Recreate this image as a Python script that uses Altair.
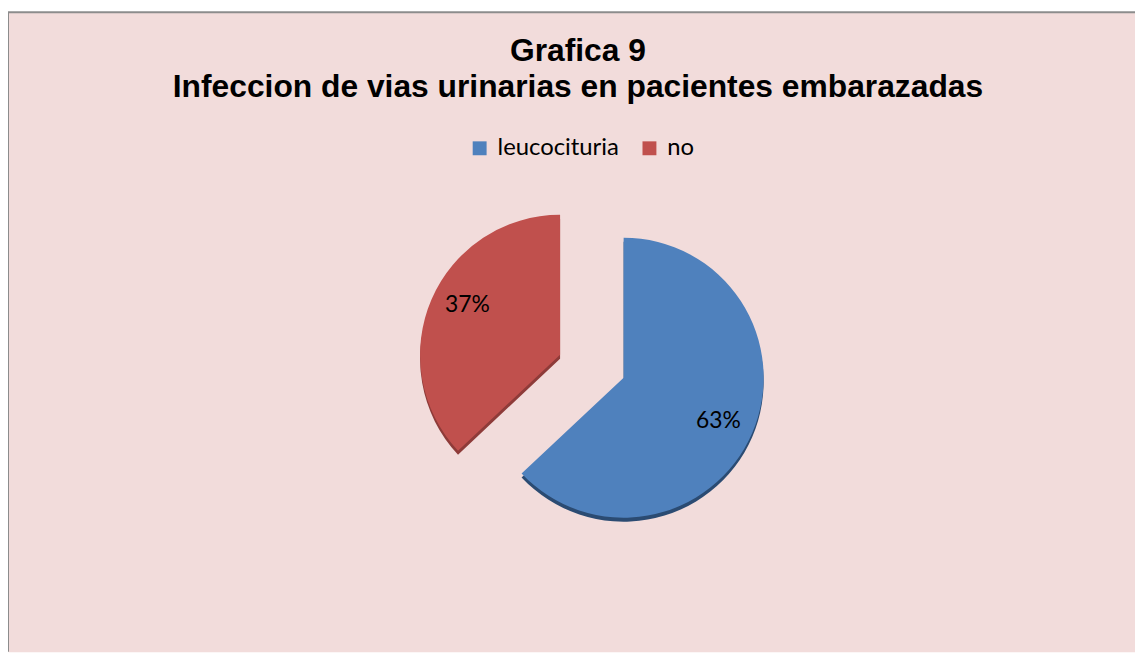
import altair as alt
import pandas as pd

categories = ["leucocituria", "no"]
values = [63, 37]
order = [1, 2]
colors = ["#4f81bd", "#c0504d"]
shadow_colors = ["#2b4b72", "#8e3b39"]
title_lines = ["Grafica 9", "Infeccion de vias urinarias en pacientes embarazadas"]

df = pd.DataFrame({"category": categories, "value": values, "order": order})

W, H = 1135, 644
R = 141
centers = {"leucocituria": (620, 368), "no": (556, 345)}
label_shift = {"leucocituria": (-1, 2), "no": (3, -8)}

base = (
    alt.Chart(df)
    .transform_joinaggregate(total="sum(value)")
    .transform_window(cum="sum(value)", sort=[alt.SortField("order")], frame=[None, 0])
    .transform_calculate(start="(datum.cum - datum.value) / datum.total * 2 * PI")
    .transform_calculate(end="datum.cum / datum.total * 2 * PI")
    .transform_calculate(mid="(datum.start + datum.end) / 2")
    .transform_calculate(label="format(datum.value / datum.total, '.0%')")
)

color_scale = alt.Scale(domain=categories, range=colors)
legend = alt.Legend(
    orient="none", legendX=463, legendY=125, direction="horizontal",
    symbolType="square", symbolSize=196, symbolStrokeWidth=0, symbolOpacity=1,
    labelFont="Lato", labelFontSize=24, labelColor="black", labelOffset=6,
    columnPadding=18, padding=0, title=None,
)

layers = []
# shadows
for cat, sc in zip(categories, shadow_colors):
    cx, cy = centers[cat]
    layers.append(
        base.transform_filter(alt.datum.category == cat)
        .mark_arc(radius=R, color=sc)
        .encode(
            theta=alt.Theta("start:Q", scale=None),
            theta2="end:Q",
            x=alt.value(cx),
            y=alt.value(cy + 4),
        )
    )
# slices
for cat in categories:
    cx, cy = centers[cat]
    layers.append(
        base.transform_filter(alt.datum.category == cat)
        .mark_arc(radius=R)
        .encode(
            theta=alt.Theta("start:Q", scale=None),
            theta2="end:Q",
            x=alt.value(cx),
            y=alt.value(cy),
            color=alt.Color("category:N", scale=color_scale, legend=legend),
        )
    )
# labels
for cat in categories:
    cx, cy = centers[cat]
    dx, dy = label_shift[cat]
    layers.append(
        base.transform_filter(alt.datum.category == cat)
        .mark_text(radius=105, font="Lato", fontSize=23, color="black", dx=dx, dy=dy)
        .encode(
            theta=alt.Theta("mid:Q", scale=None),
            text="label:N",
            x=alt.value(cx),
            y=alt.value(cy),
        )
    )

one = pd.DataFrame({"k": [0]})
# title
for i, line in enumerate(title_lines):
    layers.append(
        alt.Chart(pd.DataFrame({"t": [line]}))
        .mark_text(font="Liberation Sans", fontSize=32, fontWeight="bold",
                   color="black", align="center", baseline="alphabetic")
        .encode(text="t:N", x=alt.value(574), y=alt.value([49, 85][i]))
    )
# border (left and top)
layers.append(
    alt.Chart(one).mark_rule(color="#8c8c8c", strokeWidth=2)
    .encode(x=alt.value(0), y=alt.value(0), y2=alt.value(H))
)
layers.append(
    alt.Chart(one).mark_rule(color="#8c8c8c", strokeWidth=2)
    .encode(x=alt.value(0), x2=alt.value(W), y=alt.value(0))
)

chart = (
    alt.layer(*layers)
    .properties(
        width=W, height=H,
        autosize=alt.AutoSizeParams(type="none"),
        padding={"left": 0, "top": 2, "right": 0, "bottom": 0},
        background="white",
    )
    .configure_view(fill="#f2dcdb", stroke="transparent")
)

chart.save("out.html", embed_options={"renderer": "svg", "actions": False})
